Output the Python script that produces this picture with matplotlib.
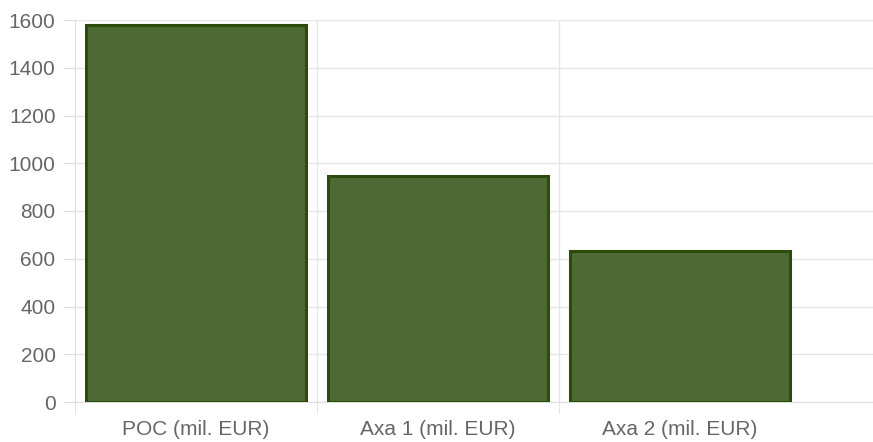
import matplotlib
matplotlib.use("Agg")
import matplotlib.pyplot as plt

categories = ["POC (mil. EUR)", "Axa 1 (mil. EUR)", "Axa 2 (mil. EUR)"]
values = [1580, 948, 633]
yticks = [0, 200, 400, 600, 800, 1000, 1200, 1400, 1600]

plt.rcParams['font.family'] = ['Liberation Sans', 'DejaVu Sans']

fig = plt.figure(figsize=(8.73, 4.42), dpi=100)
ax = fig.add_axes([75/873, 1-402/442, 1-75/873, 382/442])

x = list(range(len(categories)))
ax.bar(x, values, width=0.905, color="#4e6a34", edgecolor="#2c4c0c", linewidth=2.2, zorder=3)

ax.set_xlim(-0.5, -0.5 + 798/242)
ax.set_ylim(0, 1600)
ax.set_yticks(yticks)
ax.set_xticks(x)
ax.set_xticklabels(categories)

grid_c = "#e6e6e6"
ax.yaxis.grid(True, color=grid_c, linewidth=1, zorder=0)
for b in [0.5, 1.5]:
    ax.axvline(b, color=grid_c, linewidth=1, zorder=0)

for s in ["top", "right"]:
    ax.spines[s].set_visible(False)
ax.spines["left"].set_color("#dddddd")
ax.spines["bottom"].set_color("#dddddd")

ax.tick_params(axis="y", colors="#dddddd", length=9, labelcolor="#666666", labelsize=15, pad=5)
ax.tick_params(axis="x", length=0, labelcolor="#666666", labelsize=15, pad=13)
ax.set_xticks([-0.5, 0.5, 1.5], minor=True)
ax.tick_params(axis="x", which="minor", length=8, color="#dddddd")

fig.savefig("out.png", dpi=100)
